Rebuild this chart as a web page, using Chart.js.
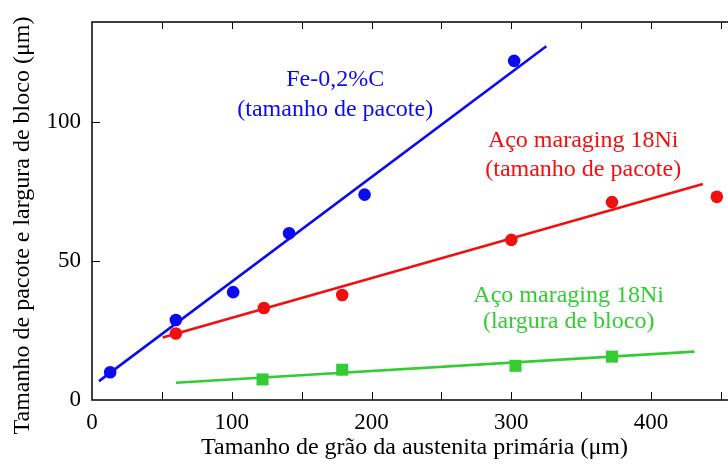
<!DOCTYPE html>
<html>
<head>
<meta charset="utf-8">
<script src="https://cdn.jsdelivr.net/npm/chart.js@4.4.0/dist/chart.umd.min.js"></script>
<style>
  body { margin: 0; background: #fff; }
  #wrap { width: 728px; height: 464px; }
</style>
</head>
<body>
<div id="wrap"><canvas id="grainChart" width="728" height="464"></canvas></div>
<script>
// dados (μm)
const feX = [13, 60, 101, 141, 195, 302];
const feY = [10, 28.8, 38.8, 60, 73.9, 122];
const feFitX = [5, 325];
const feFitY = [6.8, 127.3];

const marPacoteX = [60, 123, 179, 300, 372, 447];
const marPacoteY = [23.9, 33.1, 37.8, 57.6, 71.2, 73.1];
const marPacoteFitX = [50.5, 437];
const marPacoteFitY = [22.5, 77.7];

const marBlocoX = [122, 179, 303, 372];
const marBlocoY = [7.4, 10.9, 12.3, 15.6];
const marBlocoFitX = [60, 431];
const marBlocoFitY = [6.2, 17.4];

const xTicks = [0, 100, 200, 300, 400];
const yTicks = [0, 50, 100];

const xTitle = "Tamanho de grão da austenita primária (μm)";
const yTitle = "Tamanho de pacote e largura de bloco (μm)";

const BLUE = "#0b0bf0";
const RED = "#f01010";
const GREEN = "#33cc33";
const FONT = "'Liberation Serif'";

const toPoints = (xs, ys) => xs.map((x, i) => ({ x: x, y: ys[i] }));

// rótulos das séries, em coordenadas de dados
const labels = [
    { text: "Fe-0,2%C", x: 174, y: 115.4, color: BLUE },
    { text: "(tamanho de pacote)", x: 174, y: 104.4, color: BLUE },
    { text: "Aço maraging 18Ni", x: 351.4, y: 93.2, color: RED },
    { text: "(tamanho de pacote)", x: 351.4, y: 82.9, color: RED },
    { text: "Aço maraging 18Ni", x: 341, y: 37.4, color: GREEN },
    { text: "(largura de bloco)", x: 341, y: 28.3, color: GREEN }
];

// eixos com marcas para dentro, sem borda à direita, títulos e rótulos
const frame = {
    id: "frame",
    afterDraw(chart) {
        const { ctx, chartArea: a, scales: { x, y } } = chart;
        ctx.save();
        ctx.strokeStyle = "#000";
        ctx.lineWidth = 1.5;
        ctx.beginPath();
        ctx.moveTo(chart.width, a.top);
        ctx.lineTo(a.left, a.top);
        ctx.lineTo(a.left, a.bottom);
        ctx.lineTo(chart.width, a.bottom);
        ctx.stroke();
        ctx.lineWidth = 1;
        ctx.beginPath();
        for (let v = 50; v <= 450; v += 50) {
            const px = Math.round(x.getPixelForValue(v)) + 0.5;
            ctx.moveTo(px, a.bottom); ctx.lineTo(px, a.bottom - 8);
            ctx.moveTo(px, a.top); ctx.lineTo(px, a.top + 7);
        }
        for (const v of [50, 100]) {
            const py = Math.round(y.getPixelForValue(v)) + 0.5;
            ctx.moveTo(a.left, py); ctx.lineTo(a.left + 8, py);
        }
        ctx.stroke();

        ctx.textAlign = "center";
        ctx.textBaseline = "middle";
        ctx.font = "24px " + FONT;
        labels.forEach(l => {
            ctx.fillStyle = l.color;
            ctx.fillText(l.text, x.getPixelForValue(l.x), y.getPixelForValue(l.y));
        });

        ctx.fillStyle = "#000";
        ctx.fillText(xTitle, 414.5, 448);
        ctx.translate(23, 225.5);
        ctx.rotate(-Math.PI / 2);
        ctx.fillText(yTitle, 0, 0);
        ctx.restore();
    }
};

new Chart(document.getElementById("grainChart"), {
    type: "scatter",
    data: {
        datasets: [
            { data: toPoints(feFitX, feFitY), showLine: true, borderColor: BLUE, borderWidth: 2.6, pointRadius: 0 },
            { data: toPoints(marPacoteFitX, marPacoteFitY), showLine: true, borderColor: RED, borderWidth: 2.6, pointRadius: 0 },
            { data: toPoints(marBlocoFitX, marBlocoFitY), showLine: true, borderColor: GREEN, borderWidth: 2.6, pointRadius: 0 },
            { data: toPoints(feX, feY), backgroundColor: BLUE, borderWidth: 0, pointRadius: 6.3 },
            { data: toPoints(marPacoteX, marPacoteY), backgroundColor: RED, borderWidth: 0, pointRadius: 6.3 },
            { data: toPoints(marBlocoX, marBlocoY), backgroundColor: GREEN, borderWidth: 0, pointStyle: "rect", pointRadius: 8.5 }
        ]
    },
    options: {
        responsive: false,
        animation: false,
        devicePixelRatio: 1,
        layout: { autoPadding: false, padding: { left: 0, right: 0, top: 22, bottom: 0 } },
        plugins: { legend: { display: false }, tooltip: { enabled: false } },
        scales: {
            x: {
                type: "linear",
                min: 0,
                max: 455,
                afterBuildTicks: s => { s.ticks = xTicks.map(v => ({ value: v })); },
                afterFit: s => { s.height = 64; s.paddingLeft = 0; s.paddingRight = 0; },
                grid: { display: false, drawTicks: false },
                border: { display: false },
                ticks: { color: "#000", padding: 9, font: { family: FONT, size: 23 } }
            },
            y: {
                type: "linear",
                min: 0,
                max: 136,
                afterBuildTicks: s => { s.ticks = yTicks.map(v => ({ value: v })); },
                afterFit: s => { s.width = 92; s.paddingTop = 0; s.paddingBottom = 0; },
                grid: { display: false, drawTicks: false },
                border: { display: false },
                ticks: { color: "#000", padding: 11, font: { family: FONT, size: 23 } }
            }
        }
    },
    plugins: [frame]
});
</script>
</body>
</html>
